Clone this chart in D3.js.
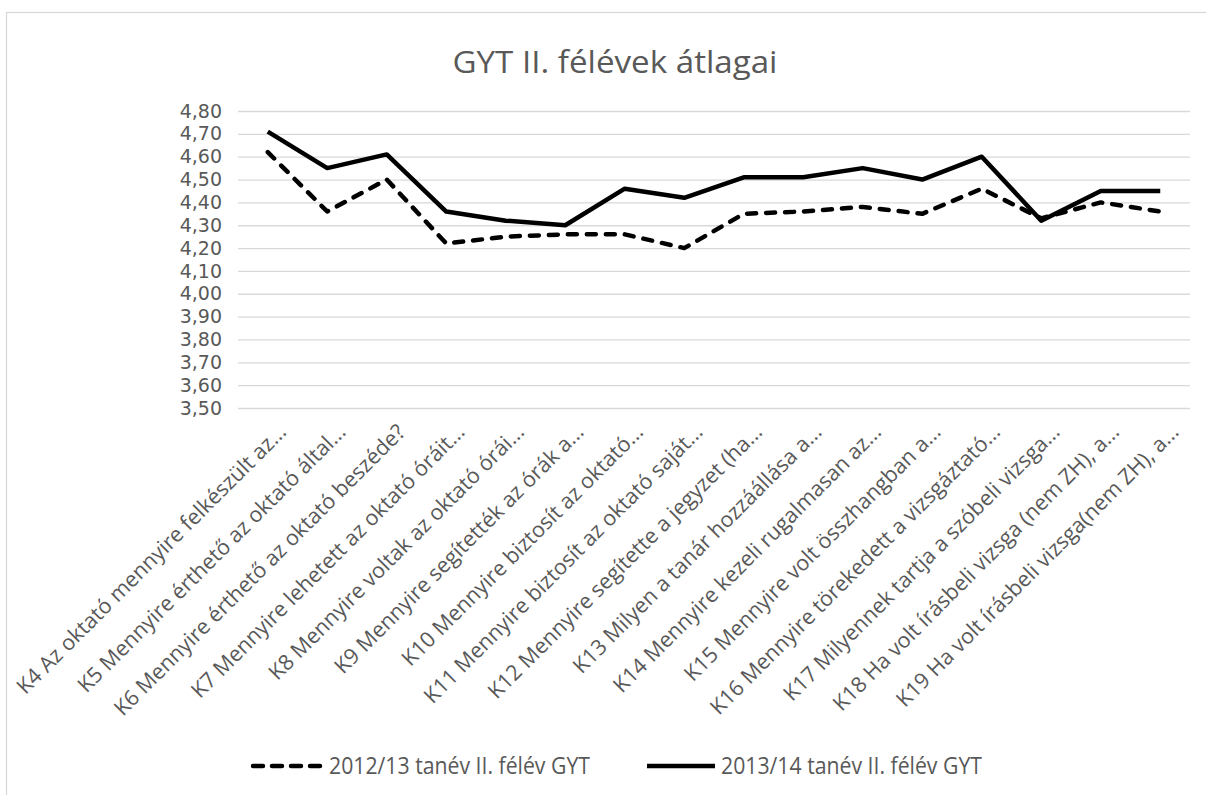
<!DOCTYPE html>
<html>
<head>
<meta charset="utf-8">
<script src="https://cdnjs.cloudflare.com/ajax/libs/d3/7.8.5/d3.min.js"></script>
<style>
    body { margin: 0; background: #fff; }
    svg { display: block; }
</style>
</head>
<body>
<svg></svg>
<script>
const categories = [
    'K4 Az oktató mennyire felkészült az...',
    'K5 Mennyire érthető az oktató által...',
    'K6 Mennyire érthető az oktató beszéde?',
    'K7 Mennyire lehetett  az oktató óráit...',
    'K8 Mennyire voltak az oktató órái...',
    'K9 Mennyire segítették  az órák a...',
    'K10 Mennyire biztosít az oktató...',
    'K11 Mennyire biztosít az oktató saját...',
    'K12 Mennyire segítette a jegyzet (ha...',
    'K13 Milyen a tanár hozzáállása a...',
    'K14 Mennyire kezeli rugalmasan az...',
    'K15 Mennyire volt összhangban a...',
    'K16 Mennyire törekedett a vizsgáztató...',
    'K17 Milyennek tartja a szóbeli vizsga...',
    'K18 Ha volt írásbeli vizsga (nem ZH), a...',
    'K19 Ha volt írásbeli vizsga(nem ZH), a...'
];
const values2012 = [4.62, 4.36, 4.50, 4.22, 4.25, 4.26, 4.26, 4.20, 4.35, 4.36, 4.38, 4.35, 4.46, 4.33, 4.40, 4.36];
const values2013 = [4.71, 4.55, 4.61, 4.36, 4.32, 4.30, 4.46, 4.42, 4.51, 4.51, 4.55, 4.50, 4.60, 4.32, 4.45, 4.45];
const seriesNames = ['2012/13 tanév II. félév GYT', '2013/14 tanév II. félév GYT'];
const yTicks = [3.5, 3.6, 3.7, 3.8, 3.9, 4.0, 4.1, 4.2, 4.3, 4.4, 4.5, 4.6, 4.7, 4.8];
const chartTitle = 'GYT II. félévek átlagai';

const width = 1206, height = 795;
const svg = d3.select('svg').attr('width', width).attr('height', height);

const textColor = '#595959';
const gridColor = '#d9d9d9';
const plot = { left: 238, right: 1190, top: 111, bottom: 408 };

// chart frame
svg.append('rect')
    .attr('x', 6.5).attr('y', 12.5)
    .attr('width', width + 20).attr('height', height + 20)
    .attr('fill', 'none')
    .attr('stroke', gridColor)
    .attr('stroke-width', 1.3);

svg.append('text')
    .attr('x', 615).attr('y', 73)
    .attr('text-anchor', 'middle')
    .attr('font-family', '"Liberation Sans Narrow", "Open Sans", sans-serif')
    .attr('font-size', '31px')
    .attr('fill', textColor)
    .attr('textLength', 325)
    .attr('lengthAdjust', 'spacingAndGlyphs')
    .text(chartTitle);

const x = d3.scalePoint()
    .domain(categories)
    .range([plot.left, plot.right])
    .padding(0.5);

const y = d3.scaleLinear()
    .domain([3.5, 4.8])
    .range([plot.bottom, plot.top]);

// y axis + gridlines
const yAxis = svg.append('g')
    .attr('transform', `translate(${plot.left},0)`)
    .call(d3.axisLeft(y)
        .tickValues(yTicks)
        .tickSize(-(plot.right - plot.left))
        .tickPadding(16)
        .tickFormat(d => d.toFixed(2).replace('.', ',')));
yAxis.select('.domain').remove();
yAxis.selectAll('line').attr('stroke', gridColor).attr('stroke-width', 1.3);
yAxis.selectAll('text')
    .attr('fill', textColor)
    .attr('font-family', '"DejaVu Sans", sans-serif')
    .attr('font-size', '19px');

// x labels (rotated)
const xAxis = svg.append('g')
    .attr('transform', `translate(0,${plot.bottom})`)
    .call(d3.axisBottom(x).tickSize(0).tickPadding(0));
xAxis.select('.domain').remove();
xAxis.selectAll('text')
    .attr('fill', textColor)
    .attr('font-family', '"Open Sans", sans-serif')
    .attr('font-size', '21.5px')
    .attr('text-anchor', 'end')
    .attr('dy', '0.35em')
    .attr('transform', 'translate(14,20) rotate(-45)');

// lines
const line = d3.line()
    .x((d, i) => x(categories[i]))
    .y(d => y(d));

svg.append('path')
    .datum(values2012)
    .attr('d', line)
    .attr('fill', 'none')
    .attr('stroke', '#000')
    .attr('stroke-width', 4.5)
    .attr('stroke-linecap', 'round')
    .attr('stroke-linejoin', 'round')
    .attr('stroke-dasharray', '9,10');

svg.append('path')
    .datum(values2013)
    .attr('d', line)
    .attr('fill', 'none')
    .attr('stroke', '#000')
    .attr('stroke-width', 4.5)
    .attr('stroke-linejoin', 'round');

// legend
const legendItems = [
    { name: seriesNames[0], dashed: true, x0: 251, tx: 329, tw: 261 },
    { name: seriesNames[1], dashed: false, x0: 645, tx: 721, tw: 261 }
];
const legend = svg.append('g').attr('class', 'legend');
legend.selectAll('line')
    .data(legendItems)
    .enter()
    .append('line')
    .attr('x1', d => d.x0 + 2)
    .attr('x2', d => d.x0 + 70)
    .attr('y1', 766).attr('y2', 766)
    .attr('stroke', '#000')
    .attr('stroke-width', 4.5)
    .attr('stroke-linecap', d => d.dashed ? 'round' : 'butt')
    .attr('stroke-dasharray', d => d.dashed ? '10,9' : null);
legend.selectAll('text')
    .data(legendItems)
    .enter()
    .append('text')
    .attr('x', d => d.tx)
    .attr('y', 774)
    .attr('font-family', '"Liberation Sans Narrow", "Open Sans", sans-serif')
    .attr('font-size', '23px')
    .attr('fill', textColor)
    .attr('textLength', d => d.tw)
    .attr('lengthAdjust', 'spacingAndGlyphs')
    .text(d => d.name);
</script>
</body>
</html>
